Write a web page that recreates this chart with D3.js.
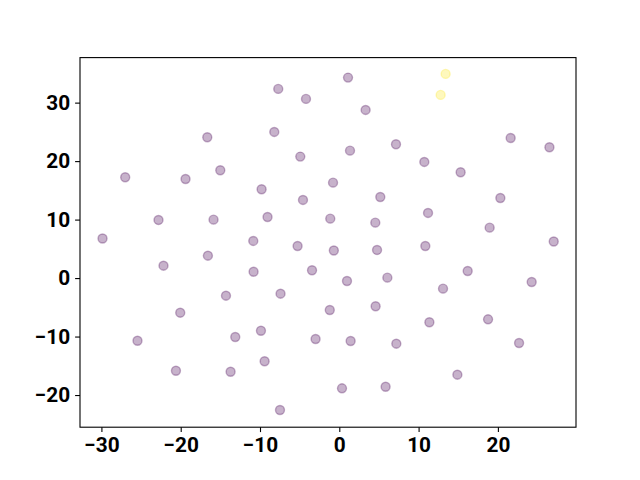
<!DOCTYPE html>
<html>
<head>
<meta charset="utf-8">
<script src='https://d3js.org/d3.v7.min.js'></script>
<style>
        html, body {
            margin: 0;
            background-color: #ffffff;
        }
        .axis text {
          font-family: Roboto, "DejaVu Sans", sans-serif;
          font-weight: bold;
          font-size: 20.8px;
          fill: #000;
        }
</style>
</head>
<body>
<div id="vis"></div>
</body>
<script>
// point coordinates
var xs = [-29.86, -27.0, -25.45, -22.80, -22.17, -20.60, -20.06, -19.39, -16.65, -16.57,
          -15.86, -15.01, -14.29, -13.71, -13.12, -10.85, -10.81, -9.88, -9.80, -9.42,
          -9.05, -8.20, -7.70, -7.48, -7.41, -5.26, -4.92, -4.58, -4.20, -3.44,
          -2.99, -1.20, -1.14, -0.79, -0.69, 0.34, 1.10, 0.97, 1.35, 1.43,
          3.32, 4.54, 4.58, 4.76, 5.17, 5.84, 6.06, 7.15, 7.19, 10.72,
          10.85, 11.19, 11.36, 13.41, 12.78, 13.08, 14.89, 15.30, 16.19, 18.76,
          18.96, 20.31, 21.61, 22.67, 24.26, 26.50, 27.04];
var ys = [6.77, 17.24, -10.71, 9.94, 2.12, -15.84, -5.92, 16.95, 24.08, 3.83,
          9.99, 18.44, -3.01, -16.01, -10.08, 6.35, 1.09, -9.00, 15.19, -14.23,
          10.45, 24.99, 32.35, -22.56, -2.67, 5.49, 20.77, 13.36, 30.64, 1.33,
          -10.42, -5.46, 10.16, 16.32, 4.72, -18.85, 34.28, -0.50, 21.79, -10.76,
          28.75, 9.48, -4.82, 4.81, 13.87, -18.58, 0.07, 22.89, -11.22, 19.86,
          5.49, 11.14, -7.56, 34.91, 31.32, -1.81, -16.52, 18.10, 1.21, -7.05,
          8.62, 13.70, 23.96, -11.10, -0.67, 22.37, 6.26];
var labels = [0, 0, 0, 0, 0, 0, 0, 0, 0, 0,
              0, 0, 0, 0, 0, 0, 0, 0, 0, 0,
              0, 0, 0, 0, 0, 0, 0, 0, 0, 0,
              0, 0, 0, 0, 0, 0, 0, 0, 0, 0,
              0, 0, 0, 0, 0, 0, 0, 0, 0, 0,
              0, 0, 0, 1, 1, 0, 0, 0, 0, 0,
              0, 0, 0, 0, 0, 0, 0];
var x_ticks = [-30, -20, -10, 0, 10, 20];
var y_ticks = [-20, -10, 0, 10, 20, 30];

var width = 640;
var height = 480;
var margin = {
    top: 57.6,
    bottom: 52.8,
    left: 80,
    right: 64
};

var svg = d3.select('#vis')
    .append('svg')
    .attr('width', width)
    .attr('height', height)
    .append('g')
    .attr('transform', 'translate(' + margin.left + ',' + margin.top + ')');

var w = width - margin.left - margin.right;
var h = height - margin.top - margin.bottom;

var x_scale = d3.scaleLinear()
    .domain([-32.7, 29.85])
    .range([0, w]);

var y_scale = d3.scaleLinear()
    .domain([-25.5, 37.7])
    .range([h, 0]);

var colour_scale = d3.scaleOrdinal()
    .domain([0, 1])
    .range(['#440154', '#fde725']);

var minus = function(d) { return d3.format('d')(d).replace('-', '\u2212'); };

var x_axis = d3.axisBottom(x_scale).tickValues(x_ticks).tickSize(4.9).tickPadding(4.9).tickFormat(minus);
var y_axis = d3.axisLeft(y_scale).tickValues(y_ticks).tickSize(4.9).tickPadding(4.9).tickFormat(minus);

var points = xs.map(function(d, i) {
    return {x: d, y: ys[i], label: labels[i]};
});

svg.selectAll('.dot')
    .data(points)
    .enter()
    .append('circle')
    .attr('class', 'dot')
    .attr('cx', function(d) { return x_scale(d.x); })
    .attr('cy', function(d) { return y_scale(d.y); })
    .attr('r', 4.5)
    .attr('fill', function(d) { return colour_scale(d.label); })
    .attr('fill-opacity', 0.3)
    .attr('stroke', function(d) { return colour_scale(d.label); })
    .attr('stroke-opacity', 0.3)
    .attr('stroke-width', 1.4);

svg.append('g')
    .attr('class', 'x axis')
    .attr('transform', 'translate(0,' + h + ')')
    .call(x_axis);

svg.append('g')
    .attr('class', 'y axis')
    .call(y_axis);

svg.selectAll('.axis .domain').remove();
svg.selectAll('.axis line').attr('stroke', '#000').attr('stroke-width', 1.1);

svg.append('rect')
    .attr('x', 0)
    .attr('y', 0)
    .attr('width', w)
    .attr('height', h)
    .attr('fill', 'none')
    .attr('stroke', '#000')
    .attr('stroke-width', 1.1);
</script>
</html>
